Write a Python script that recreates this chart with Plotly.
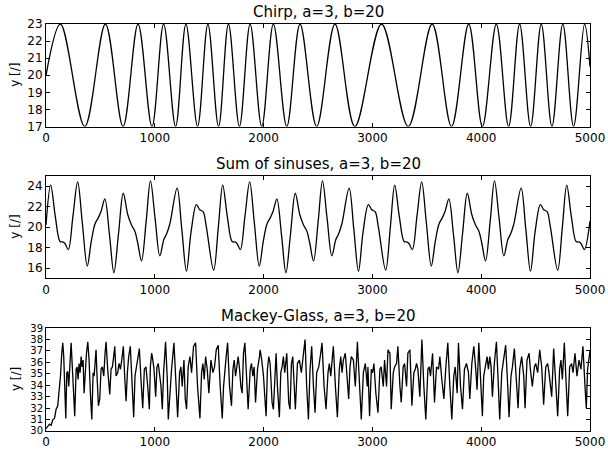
import plotly.graph_objects as go

# ---------------- data ----------------
titles = ["Chirp, a=3, b=20", "Sum of sinuses, a=3, b=20", "Mackey-Glass, a=3, b=20"]
ylabel = "y [/]"

# Chirp: start, extrema (peaks 23 / troughs 17), end
chirp_x = [0, 133, 356, 546, 708, 846, 974, 1081, 1191, 1286, 1393, 1488, 1586, 1677, 1778,
           1876, 1983, 2090, 2213, 2335, 2488, 2656, 2839, 3084, 3329, 3549, 3727, 3885, 4011,
           4139, 4252, 4353, 4454, 4552, 4650, 4750, 4849, 4950, 5000]
chirp_y = [20, 23, 17, 23, 17, 23, 17, 23, 17, 23, 17, 23, 17, 23, 17,
           23, 17, 23, 17, 23, 17, 23, 17, 23, 17, 23, 17, 23, 17,
           23, 17, 23, 17, 23, 17, 23, 17, 23, 20.5]

# Sum of sinuses
sos_x = [0,
         43, 86, 129, 153, 174, 205, 248, 291, 334, 379, 416, 450, 480, 508, 541, 584, 624, 667, 710, 752,
         786, 817, 844, 878, 921, 960, 1003, 1046, 1083, 1107, 1138, 1205, 1248, 1291, 1333, 1382, 1413,
         1444, 1474, 1541, 1584,
         1624, 1667, 1710, 1734, 1755, 1786, 1829, 1872, 1915, 1960, 1997, 2031, 2061, 2089, 2122, 2165,
         2205, 2248, 2291, 2333, 2367, 2398, 2425, 2459, 2502, 2541, 2584, 2627, 2664, 2688, 2719, 2786,
         2829, 2872, 2914, 2963, 2994, 3025, 3055, 3122, 3165,
         3205, 3248, 3291, 3315, 3336, 3367, 3410, 3453, 3496, 3541, 3578, 3612, 3642, 3670, 3703, 3746,
         3786, 3829, 3872, 3914, 3948, 3979, 4006, 4040, 4083, 4122, 4165, 4208, 4245, 4269, 4300, 4367,
         4410, 4453, 4495, 4544, 4575, 4606, 4636, 4703, 4746,
         4786, 4829, 4872, 4896, 4917, 4948, 5000]
sos_y = [20.2,
         24.1, 21.0, 18.6, 18.55, 18.4, 17.8, 21.1, 24.4, 20.4, 16.2, 18.6, 20.3, 20.9, 21.6, 22.75, 19.2,
         15.55, 19.4, 23.3, 21.2, 20.2, 19.6, 18.4, 16.7, 20.6, 24.5, 20.8, 17.2, 18.8, 19.3, 20.3, 23.8,
         19.8, 15.7, 19.5, 22.2, 21.7, 21.5, 20.0, 15.8, 20.0,
         24.1, 21.0, 18.6, 18.55, 18.4, 17.8, 21.1, 24.4, 20.4, 16.2, 18.6, 20.3, 20.9, 21.6, 22.75, 19.2,
         15.55, 19.4, 23.3, 21.2, 20.2, 19.6, 18.4, 16.7, 20.6, 24.5, 20.8, 17.2, 18.8, 19.3, 20.3, 23.8,
         19.8, 15.7, 19.5, 22.2, 21.7, 21.5, 20.0, 15.8, 20.0,
         24.1, 21.0, 18.6, 18.55, 18.4, 17.8, 21.1, 24.4, 20.4, 16.2, 18.6, 20.3, 20.9, 21.6, 22.75, 19.2,
         15.55, 19.4, 23.3, 21.2, 20.2, 19.6, 18.4, 16.7, 20.6, 24.5, 20.8, 17.2, 18.8, 19.3, 20.3, 23.8,
         19.8, 15.7, 19.5, 22.2, 21.7, 21.5, 20.0, 15.8, 20.0,
         24.1, 21.0, 18.6, 18.55, 18.4, 17.8, 20.6]

# Mackey-Glass (x, y) samples
mg_points = [
    (0, 30.2), (17, 30.45), (32, 30.6), (47, 30.5), (63, 31.0), (78, 31.1), (93, 31.9), (108, 32.2),
    (121, 33.3), (133, 34.8), (145, 36.8), (154, 37.7), (163, 36.5), (173, 33.3), (182, 31.1), (191, 35.1),
    (200, 35.2), (209, 33.9), (219, 35.9), (231, 37.7), (243, 35.4), (255, 32.2), (264, 31.3), (277, 35.4),
    (286, 35.6), (295, 34.5), (304, 35.9), (313, 35.1), (323, 36.5), (332, 35.6), (341, 36.2), (350, 33.3),
    (359, 34.8), (372, 36.8), (384, 37.8), (396, 36.2), (408, 33.3), (421, 31.0), (433, 35.1), (442, 34.8),
    (451, 35.9), (460, 37.1), (469, 34.8), (482, 32.2), (494, 32.8), (506, 35.4), (518, 35.6), (531, 34.8),
    (543, 36.8), (552, 37.8), (567, 35.4), (586, 33.2), (598, 35.4), (610, 35.6), (622, 36.5), (632, 37.4),
    (644, 34.8), (659, 35.1), (671, 35.9), (684, 35.4), (696, 36.2), (711, 37.4), (723, 34.8), (736, 32.6),
    (748, 35.1), (760, 36.5), (775, 37.4), (788, 34.5), (806, 31.2), (818, 34.8), (831, 35.6), (843, 36.5),
    (858, 37.2), (873, 34.5), (889, 32.0), (904, 35.4), (919, 35.6), (935, 33.9), (950, 31.9), (959, 35.6),
    (971, 36.8),
    (977, 36.5), (992, 35.5), (1008, 33.0), (1020, 35.6), (1032, 35.9), (1044, 34.8), (1057, 33.9), (1069, 31.9),
    (1081, 35.1), (1099, 37.8), (1115, 34.5), (1124, 31.0), (1139, 33.3), (1154, 35.4), (1176, 37.7), (1191, 34.5),
    (1210, 31.2), (1228, 35.1), (1240, 35.6), (1252, 33.9), (1268, 36.2), (1280, 32.8), (1292, 31.9), (1307, 35.6),
    (1323, 36.5), (1338, 35.1), (1356, 37.4), (1375, 37.7), (1393, 33.9), (1415, 31.1), (1430, 35.1), (1442, 35.9),
    (1454, 34.5), (1467, 36.5), (1482, 35.4), (1497, 33.3), (1516, 36.2), (1534, 35.1), (1549, 35.6), (1565, 37.1),
    (1583, 37.5), (1601, 33.9), (1620, 31.1), (1632, 33.9), (1644, 35.6), (1656, 36.5), (1669, 37.7), (1687, 33.9),
    (1705, 32.2), (1718, 35.4), (1730, 36.2), (1742, 34.8), (1754, 35.6), (1766, 36.5), (1779, 35.4), (1791, 33.9),
    (1803, 33.3), (1815, 36.8), (1828, 37.7), (1843, 34.8), (1858, 31.9), (1877, 35.4), (1889, 35.9), (1901, 34.8),
    (1913, 35.6), (1926, 32.5), (1944, 35.4), (1962, 36.5),
    (1968, 37.1), (1983, 36.2), (1999, 34.8), (2011, 33.0), (2023, 31.3), (2035, 35.4), (2048, 36.5), (2060, 35.9),
    (2078, 32.5), (2090, 31.9), (2103, 35.4), (2115, 36.8), (2127, 33.9), (2145, 31.2), (2158, 35.1), (2170, 35.6),
    (2182, 36.5), (2194, 35.1), (2213, 36.8), (2231, 32.5), (2243, 31.9), (2256, 35.9), (2268, 36.5), (2280, 34.5),
    (2292, 31.9), (2311, 35.9), (2329, 36.2), (2347, 35.1), (2366, 37.1), (2381, 38.0), (2396, 33.9), (2412, 31.0),
    (2427, 35.4), (2442, 37.4), (2458, 33.9), (2473, 31.6), (2488, 35.1), (2507, 35.6), (2525, 36.8), (2537, 37.7),
    (2556, 33.9), (2574, 31.9), (2592, 35.1), (2604, 35.9), (2617, 34.8), (2629, 36.5), (2641, 37.4), (2660, 33.9),
    (2678, 31.2), (2696, 35.4), (2709, 36.5), (2721, 35.1), (2733, 36.2), (2751, 36.8), (2770, 34.5), (2782, 32.8),
    (2794, 35.6), (2806, 36.5), (2825, 36.2), (2843, 33.9), (2862, 37.8), (2880, 33.9), (2898, 31.0), (2917, 35.1),
    (2935, 35.9), (2953, 33.9),
    (2959, 35.6), (2974, 31.3), (2990, 35.4), (3002, 35.1), (3014, 35.9), (3032, 33.3), (3051, 31.6), (3069, 35.4),
    (3081, 35.6), (3100, 33.9), (3112, 36.2), (3130, 33.9), (3143, 37.1), (3161, 36.8), (3173, 31.9), (3192, 35.1),
    (3204, 35.6), (3222, 35.9), (3234, 37.4), (3253, 33.9), (3265, 32.5), (3283, 35.6), (3296, 35.9), (3314, 33.9),
    (3326, 36.8), (3345, 37.1), (3363, 32.2), (3381, 35.1), (3394, 35.4), (3406, 35.9), (3418, 35.4), (3436, 33.0),
    (3455, 38.0), (3473, 33.9), (3491, 31.0), (3510, 35.4), (3522, 35.6), (3534, 34.8), (3553, 36.8), (3571, 32.5),
    (3589, 35.6), (3608, 35.4), (3620, 36.5), (3638, 34.5), (3657, 32.8), (3675, 35.6), (3693, 37.7), (3712, 33.9),
    (3730, 31.0), (3748, 34.8), (3761, 35.6), (3779, 33.3), (3791, 37.7), (3810, 33.9), (3828, 31.9), (3846, 35.4),
    (3865, 35.9), (3883, 35.1), (3895, 32.8), (3914, 35.9), (3932, 37.4),
    (3950, 35.4), (3962, 33.6), (3978, 37.7), (3993, 34.2), (4011, 31.3), (4023, 34.8), (4036, 35.4), (4054, 36.5),
    (4066, 35.4), (4079, 36.5), (4091, 35.6), (4103, 33.0), (4121, 35.9), (4140, 37.8), (4158, 33.9), (4170, 31.0),
    (4189, 35.1), (4207, 36.2), (4225, 37.5), (4244, 33.9), (4256, 31.2), (4274, 34.8), (4287, 35.6), (4305, 37.2),
    (4323, 33.9), (4339, 32.0), (4354, 35.4), (4372, 36.5), (4391, 34.8), (4403, 32.0), (4421, 36.2), (4440, 36.8),
    (4452, 35.4), (4470, 33.9), (4489, 35.6), (4501, 35.9), (4519, 35.1), (4538, 37.1), (4556, 35.6), (4574, 32.3),
    (4593, 35.6), (4611, 35.9), (4623, 35.1), (4648, 33.0), (4666, 37.2), (4684, 33.9), (4703, 31.3), (4721, 35.4),
    (4733, 36.2), (4746, 34.5), (4764, 37.7), (4782, 33.9), (4795, 31.3), (4813, 35.6), (4831, 35.9), (4844, 35.1),
    (4862, 36.8), (4880, 34.8), (4899, 36.2), (4917, 35.4), (4935, 37.4), (4954, 33.9), (4966, 32.0), (4978, 35.4),
    (5000, 37.0),
]
mg_x = [p[0] for p in mg_points]
mg_y = [p[1] for p in mg_points]

x_ticks = [0, 1000, 2000, 3000, 4000, 5000]
y_ranges = [[17, 23], [15, 25], [30, 39]]
y_ticks = [[17, 18, 19, 20, 21, 22, 23], [16, 18, 20, 22, 24], [30, 31, 32, 33, 34, 35, 36, 37, 38, 39]]

# ---------------- figure ----------------
FONT = "DejaVu Sans"
domains = [[0.748, 1.0], [0.375, 0.627], [0.0, 0.253]]
y_tick_sizes = [12, 12, 10]
series = [(chirp_x, chirp_y, "spline"), (sos_x, sos_y, "spline"), (mg_x, mg_y, "linear")]

fig = go.Figure()
for i, (xs, ys, shape) in enumerate(series):
    sfx = "" if i == 0 else str(i + 1)
    fig.add_trace(go.Scatter(x=xs, y=ys, mode="lines",
                             line=dict(color="black", width=1.3, shape=shape, smoothing=1.0),
                             xaxis="x" + sfx, yaxis="y" + sfx, showlegend=False, hoverinfo="skip"))

layout = dict(
    width=608, height=452,
    margin=dict(l=46, r=18, t=24, b=21, autoexpand=False),
    paper_bgcolor="white", plot_bgcolor="white",
    font=dict(family=FONT, size=12, color="black"),
    showlegend=False,
    annotations=[],
)
ax_common = dict(showline=True, linecolor="black", linewidth=1, mirror="allticks",
                 ticks="inside", ticklen=4, tickwidth=1, tickcolor="black", automargin=False,
                 showgrid=False, zeroline=False)
for i in range(3):
    sfx = "" if i == 0 else str(i + 1)
    layout["xaxis" + sfx] = dict(ax_common, domain=[0, 1], range=[0, 5000], tickvals=x_ticks,
                                 ticktext=[str(v) for v in x_ticks], anchor="y" + sfx,
                                 tickfont=dict(family=FONT, size=12, color="black"))
    layout["yaxis" + sfx] = dict(ax_common, domain=domains[i], range=y_ranges[i], tickvals=y_ticks[i],
                                 ticktext=[str(v) for v in y_ticks[i]], anchor="x" + sfx,
                                 tickfont=dict(family=FONT, size=y_tick_sizes[i], color="black"))
    layout["annotations"].append(dict(text=titles[i], xref="paper", yref="paper", x=0.5, y=domains[i][1],
                                      xanchor="center", yanchor="bottom", yshift=1, showarrow=False,
                                      font=dict(family=FONT, size=15, color="black")))
    layout["annotations"].append(dict(text=ylabel, xref="paper", yref="paper", x=-0.056,
                                      y=(domains[i][0] + domains[i][1]) / 2, xanchor="center", yanchor="middle",
                                      textangle=-90, showarrow=False,
                                      font=dict(family=FONT, size=12, color="black")))
fig.update_layout(**layout)
fig.write_html("out.html", config={"displayModeBar": False, "staticPlot": True},
               post_script="document.body.style.margin='0';document.body.style.padding='0';"
                           "document.body.style.overflow='hidden';window.scrollTo(0,0);")
